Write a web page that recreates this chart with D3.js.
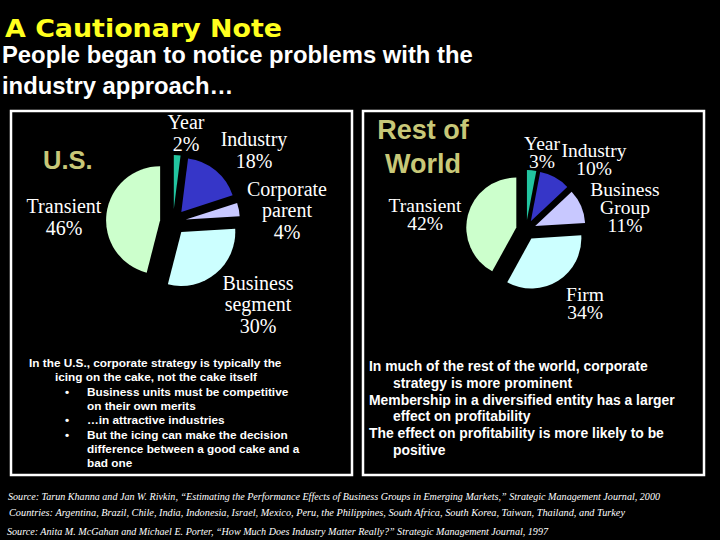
<!DOCTYPE html>
<html>
<head>
<meta charset="utf-8">
<script src="https://cdn.jsdelivr.net/npm/d3@7"></script>
<style>
  html, body { margin: 0; padding: 0; background: #000; }
</style>
</head>
<body>
<script>
// pie data
var usCategories = ["Year", "Industry", "Corporate parent", "Business segment", "Transient"];
var usValues = [2, 18, 4, 30, 46];
var rowCategories = ["Year", "Industry", "Business Group", "Firm", "Transient"];
var rowValues = [3, 10, 11, 34, 42];
var sliceColors = ["#22c4a0", "#3636c8", "#c8c8ff", "#ccffff", "#ccffcc"];

// label offsets from pie centre (layout only)
var usLabelOffsets = [[13, -89], [81, -72], [114, -12], [85, 82], [-109, -5]];
var rowLabelOffsets = [[16, -78], [68, -71], [99, -23], [59, 73], [-101, -16]];

var leftNotes = [
	{ t: "In the U.S., corporate strategy is typically the", x: 29 },
	{ t: "icing on the cake, not the cake itself", x: 55 },
	{ t: "Business units must be competitive", x: 87, bullet: true },
	{ t: "on their own merits", x: 87 },
	{ t: "\u2026in attractive industries", x: 87, bullet: true },
	{ t: "But the icing can make the decision", x: 87, bullet: true },
	{ t: "difference between a good cake and a", x: 87 },
	{ t: "bad one", x: 87 }
];
var rightNotes = [
	{ t: "In much of the rest of the world, corporate", x: 369 },
	{ t: "strategy is more prominent", x: 393 },
	{ t: "Membership in a diversified entity has a larger", x: 369 },
	{ t: "effect on profitability", x: 393 },
	{ t: "The effect on profitability is more likely to be", x: 369 },
	{ t: "positive", x: 393 }
];
var footnotes = [
	"Source:  Tarun Khanna and Jan W. Rivkin, \u201cEstimating the Performance Effects of Business Groups in Emerging Markets,\u201d Strategic Management Journal, 2000",
	"Countries:  Argentina, Brazil, Chile, India, Indonesia, Israel, Mexico, Peru, the Philippines, South Africa, South Korea, Taiwan, Thailand, and Turkey",
	"Source:  Anita M. McGahan and Michael E. Porter, \u201cHow Much Does Industry Matter Really?\u201d Strategic Management Journal, 1997"
];

var svg = d3.select("body").append("svg")
	.attr("width", 720)
	.attr("height", 540)
	.style("background", "#000");

svg.append("text")
	.attr("x", 5).attr("y", 37)
	.attr("textLength", 277)
	.attr("lengthAdjust", "spacingAndGlyphs")
	.attr("font-family", "DejaVu Sans")
	.attr("font-weight", "bold")
	.attr("font-size", 24.5)
	.attr("fill", "#ffff1e")
	.text("A Cautionary Note");

svg.selectAll(".sub")
	.data(["People began to notice problems with the", "industry approach\u2026"])
	.enter().append("text")
	.attr("x", 2)
	.attr("y", function(d, i) { return 63 + i * 31; })
	.attr("font-family", "Liberation Sans")
	.attr("font-weight", "bold")
	.attr("font-size", 23.8)
	.attr("fill", "#fff")
	.text(function(d) { return d; });

// panels
[[11, 111, 341, 364], [363, 111, 341, 364]].forEach(function(p) {
	svg.append("rect")
		.attr("x", p[0]).attr("y", p[1])
		.attr("width", p[2]).attr("height", p[3])
		.attr("fill", "none")
		.attr("stroke", "#fff")
		.attr("stroke-width", 2.5);
});

function drawPie(cx, cy, r, explode, cats, vals, offsets, fs, lh) {
	var pie = d3.pie().sort(null)(vals);
	var arc = d3.arc().innerRadius(0).outerRadius(r);
	var g = svg.append("g").attr("transform", "translate(" + cx + "," + cy + ")");

	g.selectAll("path")
		.data(pie)
		.enter().append("path")
		.attr("d", arc)
		.attr("fill", function(d, i) { return sliceColors[i]; })
		.attr("transform", function(d) {
			var a = (d.startAngle + d.endAngle) / 2;
			return "translate(" + (explode * Math.sin(a)) + "," + (-explode * Math.cos(a)) + ")";
		});

	pie.forEach(function(d, i) {
		var lines = cats[i].split(" ").concat([vals[i] + "%"]);
		var x = offsets[i][0], y = offsets[i][1];
		var y0 = y - (lines.length - 1) * lh / 2 + 0.35 * fs;
		var t = g.append("text")
			.attr("font-family", "Liberation Serif")
			.attr("font-size", fs)
			.attr("fill", "#fff")
			.attr("text-anchor", "middle");
		lines.forEach(function(l, j) {
			t.append("tspan").attr("x", x).attr("y", y0 + j * lh).text(l);
		});
	});
}

drawPie(173, 222, 54, 13, usCategories, usValues, usLabelOffsets, 20, 21.5);
drawPie(526, 230, 50, 10, rowCategories, rowValues, rowLabelOffsets, 19.5, 18);

svg.append("text")
	.attr("x", 43).attr("y", 169)
	.attr("font-family", "Liberation Sans")
	.attr("font-weight", "bold")
	.attr("font-size", 25.5)
	.attr("fill", "#c8c878")
	.text("U.S.");

svg.selectAll(".row")
	.data(["Rest of", "World"])
	.enter().append("text")
	.attr("x", 423)
	.attr("y", function(d, i) { return 139 + i * 34; })
	.attr("text-anchor", "middle")
	.attr("font-family", "Liberation Sans")
	.attr("font-weight", "bold")
	.attr("font-size", 27)
	.attr("fill", "#c8c878")
	.text(function(d) { return d; });

function drawNotes(notes, y0, step, fs, bulletX) {
	notes.forEach(function(n, i) {
		var y = y0 + i * step;
		svg.append("text")
			.attr("x", n.x).attr("y", y)
			.attr("font-family", "Liberation Sans")
			.attr("font-weight", "bold")
			.attr("font-size", fs)
			.attr("fill", "#fff")
			.text(n.t);
		if (n.bullet) {
			svg.append("text")
				.attr("x", bulletX).attr("y", y)
				.attr("font-family", "Liberation Sans")
				.attr("font-weight", "bold")
				.attr("font-size", fs)
				.attr("fill", "#fff")
				.text("\u2022");
		}
	});
}

drawNotes(leftNotes, 367, 14.3, 11.8, 65);
drawNotes(rightNotes, 371, 16.8, 13.9, 0);

var footX = [8, 9, 7];
var footY = [500, 516, 535];
var footW = [652, 616, 541];
svg.selectAll(".foot")
	.data(footnotes)
	.enter().append("text")
	.attr("x", function(d, i) { return footX[i]; })
	.attr("y", function(d, i) { return footY[i]; })
	.attr("textLength", function(d, i) { return footW[i]; })
	.attr("lengthAdjust", "spacingAndGlyphs")
	.attr("font-family", "Liberation Serif")
	.attr("font-style", "italic")
	.attr("font-size", 10)
	.attr("fill", "#fff")
	.text(function(d) { return d; });
</script>
</body>
</html>
